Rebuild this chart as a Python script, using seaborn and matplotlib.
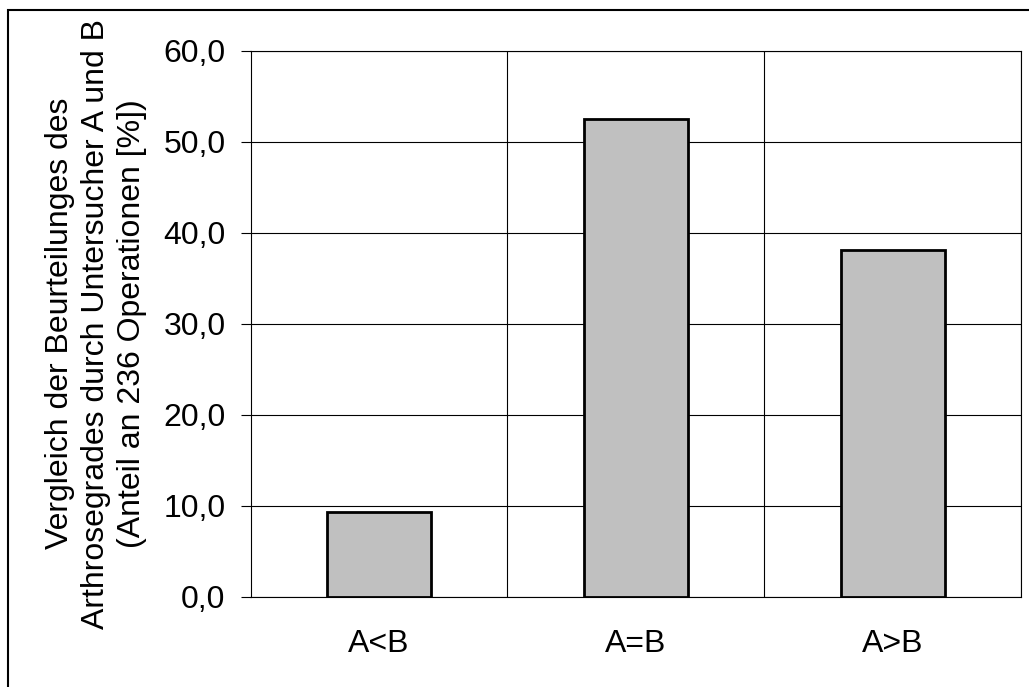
import numpy as np
import pandas as pd
import matplotlib
matplotlib.use("Agg")
import matplotlib.pyplot as plt
from matplotlib.patches import Rectangle
from matplotlib.ticker import FuncFormatter, FixedLocator
import seaborn as sns

categories = ["A<B", "A=B", "A>B"]
values = [9.3, 52.5, 38.1]
y_ticks = [0, 10, 20, 30, 40, 50, 60]
ylabel = ("Vergleich der Beurteilunges des\n"
          "Arthrosegrades durch Untersucher A und B\n"
          "(Anteil an 236 Operationen [%])")

sns.set_style("white")
plt.rcParams['font.family'] = ['Liberation Sans', 'DejaVu Sans']
plt.rcParams['text.color'] = 'black'
plt.rcParams['xtick.color'] = 'black'
plt.rcParams['ytick.color'] = 'black'
plt.rcParams['axes.labelcolor'] = 'black'

df = pd.DataFrame({"cat": categories, "val": values})

fig = plt.figure(figsize=(10.29, 6.87), dpi=100)
ax = fig.add_axes([250.5 / 1029, 1 - 597 / 687, (1021 - 250.5) / 1029, (597 - 50.5) / 687])

sns.barplot(data=df, x="cat", y="val", color="#C0C0C0", width=0.405,
            edgecolor="black", linewidth=2.0, saturation=1, ax=ax, zorder=3)

ax.set_xlim(-0.5, 2.5)
ax.set_ylim(0, 60)
ax.set_yticks(y_ticks)
ax.yaxis.set_major_formatter(FuncFormatter(lambda v, p: f"{v:.1f}".replace(".", ",")))
ax.xaxis.set_minor_locator(FixedLocator([-0.5, 0.5, 1.5, 2.5]))

ax.grid(True, axis="y", which="major", color="black", lw=0.8, zorder=0)
ax.grid(True, axis="x", which="minor", color="black", lw=0.8, zorder=0)
ax.grid(False, axis="x", which="major")

ax.tick_params(axis="x", which="major", length=0, pad=23, labelsize=23)
ax.tick_params(axis="x", which="minor", length=7, width=0.8, color="black", direction="out")
ax.tick_params(axis="y", which="major", length=7, width=0.8, color="black",
               direction="out", labelsize=23, pad=11, left=True)

for s in ax.spines.values():
    s.set_color("black")
    s.set_linewidth(0.8)

ax.set_xlabel("")
ax.set_ylabel(ylabel, fontsize=23, labelpad=12, linespacing=1.25)

fig.patches.append(Rectangle((7.5 / 1029, -0.1), 2, (687 - 10) / 687 + 0.1,
                             transform=fig.transFigure, fill=False,
                             edgecolor="black", lw=1.5))

fig.savefig("out.png", dpi=100, facecolor="white")
